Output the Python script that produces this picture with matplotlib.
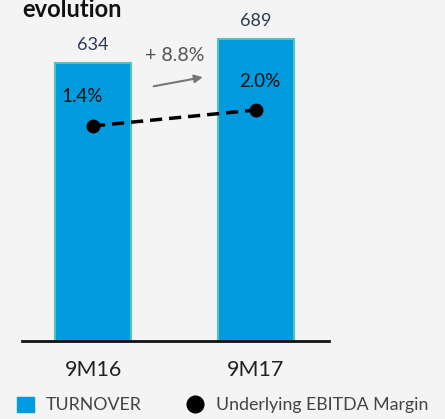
import numpy as np
import matplotlib
matplotlib.use('Agg')
import matplotlib.pyplot as plt
from matplotlib.patches import Patch
from matplotlib.lines import Line2D

# data
periods = ['9M16', '9M17']
turnover = [634, 689]
margin = [1.4, 2.0]
margin_labels = ['1.4%', '2.0%']
growth_label = '+ 8.8%'

BG = '#f4f4f4'
BAR = '#009bdf'
EDGE = '#52c4b6'
FONT = 'Lato'

plt.rcParams['font.family'] = [FONT, 'DejaVu Sans']

fig = plt.figure(figsize=(4.45, 4.19), dpi=100, facecolor=BG)
ax = fig.add_axes([22/445, 78/419, 307/445, 341/419])
ax.set_facecolor(BG)
x = np.arange(len(periods))
ax.bar(x, turnover, width=0.466, color=BAR, edgecolor=EDGE, linewidth=1.5, zorder=2)
ax.set_xlim(-0.436, 1.448)
ax.set_ylim(0, 778)
for s in ['top', 'right', 'left']:
    ax.spines[s].set_visible(False)
ax.spines['bottom'].set_linewidth(2)
ax.spines['bottom'].set_color('#111111')
ax.set_yticks([])
ax.set_xticks(x)
ax.set_xticklabels(periods, fontsize=15.5, color='#222222')
ax.tick_params(axis='x', length=0, pad=14)

for xi, v in zip(x, turnover):
    ax.text(xi, v + 22, str(v), ha='center', va='bottom', fontsize=13, color='#2b3a55')

# growth annotation
ax.text(0.50, 651, growth_label, ha='center', va='center', fontsize=14, color='#555555')
ax.annotate('', xy=(0.69, 603), xytext=(0.355, 580),
            arrowprops=dict(arrowstyle='-|>', color='#777777', lw=1.5, mutation_scale=12))

ax2 = ax.twinx()
ax2.set_ylim(-6.66, 6.12)
ax2.axis('off')
ax2.plot(x, margin, color='black', linestyle=(0, (3.5, 2)), linewidth=2.5,
         marker='o', markersize=9, zorder=3)
ax2.text(x[0] - 0.07, margin[0] + 1.1, margin_labels[0], ha='center', va='center',
         fontsize=13.5, color='#111111')
ax2.text(x[1] + 0.02, margin[1] + 1.05, margin_labels[1], ha='center', va='center',
         fontsize=13.5, color='#111111')

fig.text(22/445, (419-17)/419, 'evolution', fontsize=17, fontweight='bold',
         ha='left', va='baseline', color='#111111')

handles = [Patch(facecolor=BAR, edgecolor=BAR),
           Line2D([], [], color='black', marker='o', linestyle='none', markersize=12)]
fig.legend(handles, ['TURNOVER', 'Underlying EBITDA Margin'], ncol=2,
           loc='center left', bbox_to_anchor=(0.0095, 14/419), frameon=False,
           fontsize=12.8, handlelength=0.95, handleheight=0.95, handletextpad=0.7,
           columnspacing=2.5, labelcolor='#444444', borderpad=0.2)

fig.savefig('out.png', dpi=100, facecolor=BG)
